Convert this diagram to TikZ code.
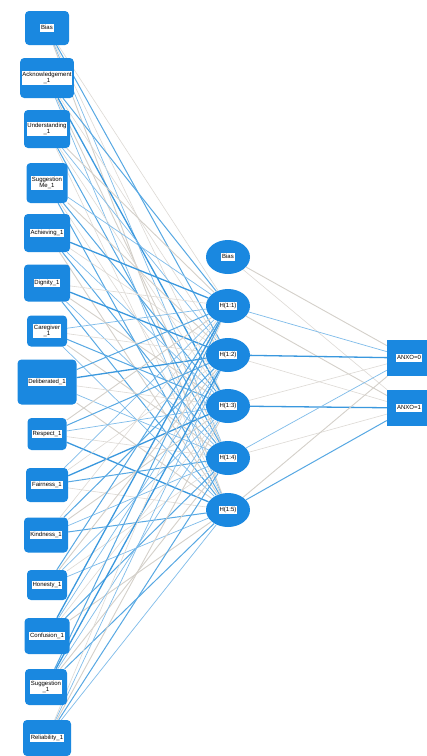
\documentclass[tikz,border=0pt]{standalone}
\usepackage{fontspec}
\setmainfont{Liberation Sans}
\usetikzlibrary{shapes.geometric,backgrounds}

\definecolor{nnblue}{RGB}{26,136,224}
\definecolor{wblue}{RGB}{58,152,222}
\definecolor{wgray}{RGB}{212,208,202}
\setlength{\fboxsep}{0.8pt}
\newcommand{\lbl}[1]{\colorbox{white}{\fontsize{6}{6.5}\selectfont\begin{tabular}{@{}c@{}}#1\end{tabular}}}

\begin{document}
\begin{tikzpicture}[x=1pt,y=-1pt,
	inp/.style={rectangle,rounded corners=4pt,fill=nnblue,minimum width=44pt,minimum height=34pt,inner sep=1.5pt},
	hid/.style={ellipse,fill=nnblue,minimum width=44pt,minimum height=34pt,inner sep=1pt},
	outbox/.style={rectangle,fill=nnblue,minimum width=44pt,minimum height=36pt,inner sep=2pt},
	wb1/.style={wblue!65,line width=0.7pt},
	wb2/.style={wblue!85,line width=1pt},
	wb3/.style={wblue,line width=1.3pt},
	wg1/.style={wgray!80,line width=0.6pt},
	wg2/.style={wgray,line width=0.9pt}]
	\useasboundingbox (0,0) rectangle (427,756);
	% input layer
	\node[inp] (i0) at (47,28) {\lbl{Bias}};
	\node[inp,minimum width=50pt,minimum height=40pt] (i1) at (47,78) {\lbl{Acknowledgement\\\_1}};
	\node[inp,minimum width=46pt,minimum height=38pt] (i2) at (47,129) {\lbl{Understanding\\\_1}};
	\node[inp,minimum width=41pt,minimum height=40pt] (i3) at (47,183) {\lbl{Suggestion\\Me\_1}};
	\node[inp,minimum width=46pt,minimum height=38pt] (i4) at (47,233) {\lbl{Achieving\_1}};
	\node[inp,minimum width=46pt,minimum height=37pt] (i5) at (47,283) {\lbl{Dignity\_1}};
	\node[inp,minimum width=40pt,minimum height=31pt] (i6) at (47,331) {\lbl{Caregiver\\\_1}};
	\node[inp,minimum width=59pt,minimum height=45pt] (i7) at (47,382) {\lbl{Deliberated\_1}};
	\node[inp,minimum width=39pt,minimum height=32pt] (i8) at (47,434) {\lbl{Respect\_1}};
	\node[inp,minimum width=42pt,minimum height=34pt] (i9) at (47,485) {\lbl{Fairness\_1}};
	\node[inp,minimum width=44pt,minimum height=35pt] (i10) at (46,535) {\lbl{Kindness\_1}};
	\node[inp,minimum width=40pt,minimum height=30pt] (i11) at (47,585) {\lbl{Honesty\_1}};
	\node[inp,minimum width=45pt,minimum height=36pt] (i12) at (47,636) {\lbl{Confusion\_1}};
	\node[inp,minimum width=42pt,minimum height=36pt] (i13) at (46,687) {\lbl{Suggestion\\\_1}};
	\node[inp,minimum width=48pt,minimum height=36pt] (i14) at (47,738) {\lbl{Reliability\_1}};
	% hidden layer
	\node[hid] (h0) at (228,257) {\lbl{Bias}};
	\node[hid] (h1) at (228,306) {\lbl{H(1:1)}};
	\node[hid] (h2) at (228,355) {\lbl{H(1:2)}};
	\node[hid] (h3) at (228,406) {\lbl{H(1:3)}};
	\node[hid] (h4) at (228,458) {\lbl{H(1:4)}};
	\node[hid] (h5) at (228,510) {\lbl{H(1:5)}};
	% output layer
	\node[outbox] (o1) at (409,358) {\lbl{ANXO=0}};
	\node[outbox] (o2) at (409,408) {\lbl{ANXO=1}};
	% synaptic weights
	\begin{scope}[on background layer]
		\fill[white] (0,0) rectangle (427,756);
		\foreach \a/\ws in {i0/{wg1,wb2,wg1,wb1,wg2},i1/{wb2,wg1,wb3,wg2,wb1},i2/{wg2,wb1,wg1,wb2,wg1},
			i3/{wb1,wg2,wb2,wg1,wb2},i4/{wb3,wg1,wb1,wb2,wg2},i5/{wg1,wb3,wg2,wb1,wb2},
			i6/{wb1,wg1,wb2,wg2,wb1},i7/{wb2,wb3,wg1,wb1,wg2},i8/{wg2,wb2,wb1,wg1,wb3},
			i9/{wb1,wg1,wb3,wb2,wg1},i10/{wg1,wb2,wg2,wb1,wb2},i11/{wb2,wg2,wb1,wg1,wb1},
			i12/{wb3,wb1,wg1,wb2,wg2},i13/{wb2,wb3,wb1,wg2,wb2},i14/{wg1,wb1,wg2,wb2,wb1}}
			\foreach \w [count=\j] in \ws
				\draw[\w] (\a) -- (h\j);
		\foreach \h/\wa/\wb in {h0/wg2/wg1,h1/wb1/wg2,h2/wb3/wg1,h3/wg1/wb3,h4/wb1/wg1,h5/wg2/wb2}
			{\draw[\wa] (\h) -- (o1);
			 \draw[\wb] (\h) -- (o2);}
	\end{scope}
\end{tikzpicture}
\end{document}
